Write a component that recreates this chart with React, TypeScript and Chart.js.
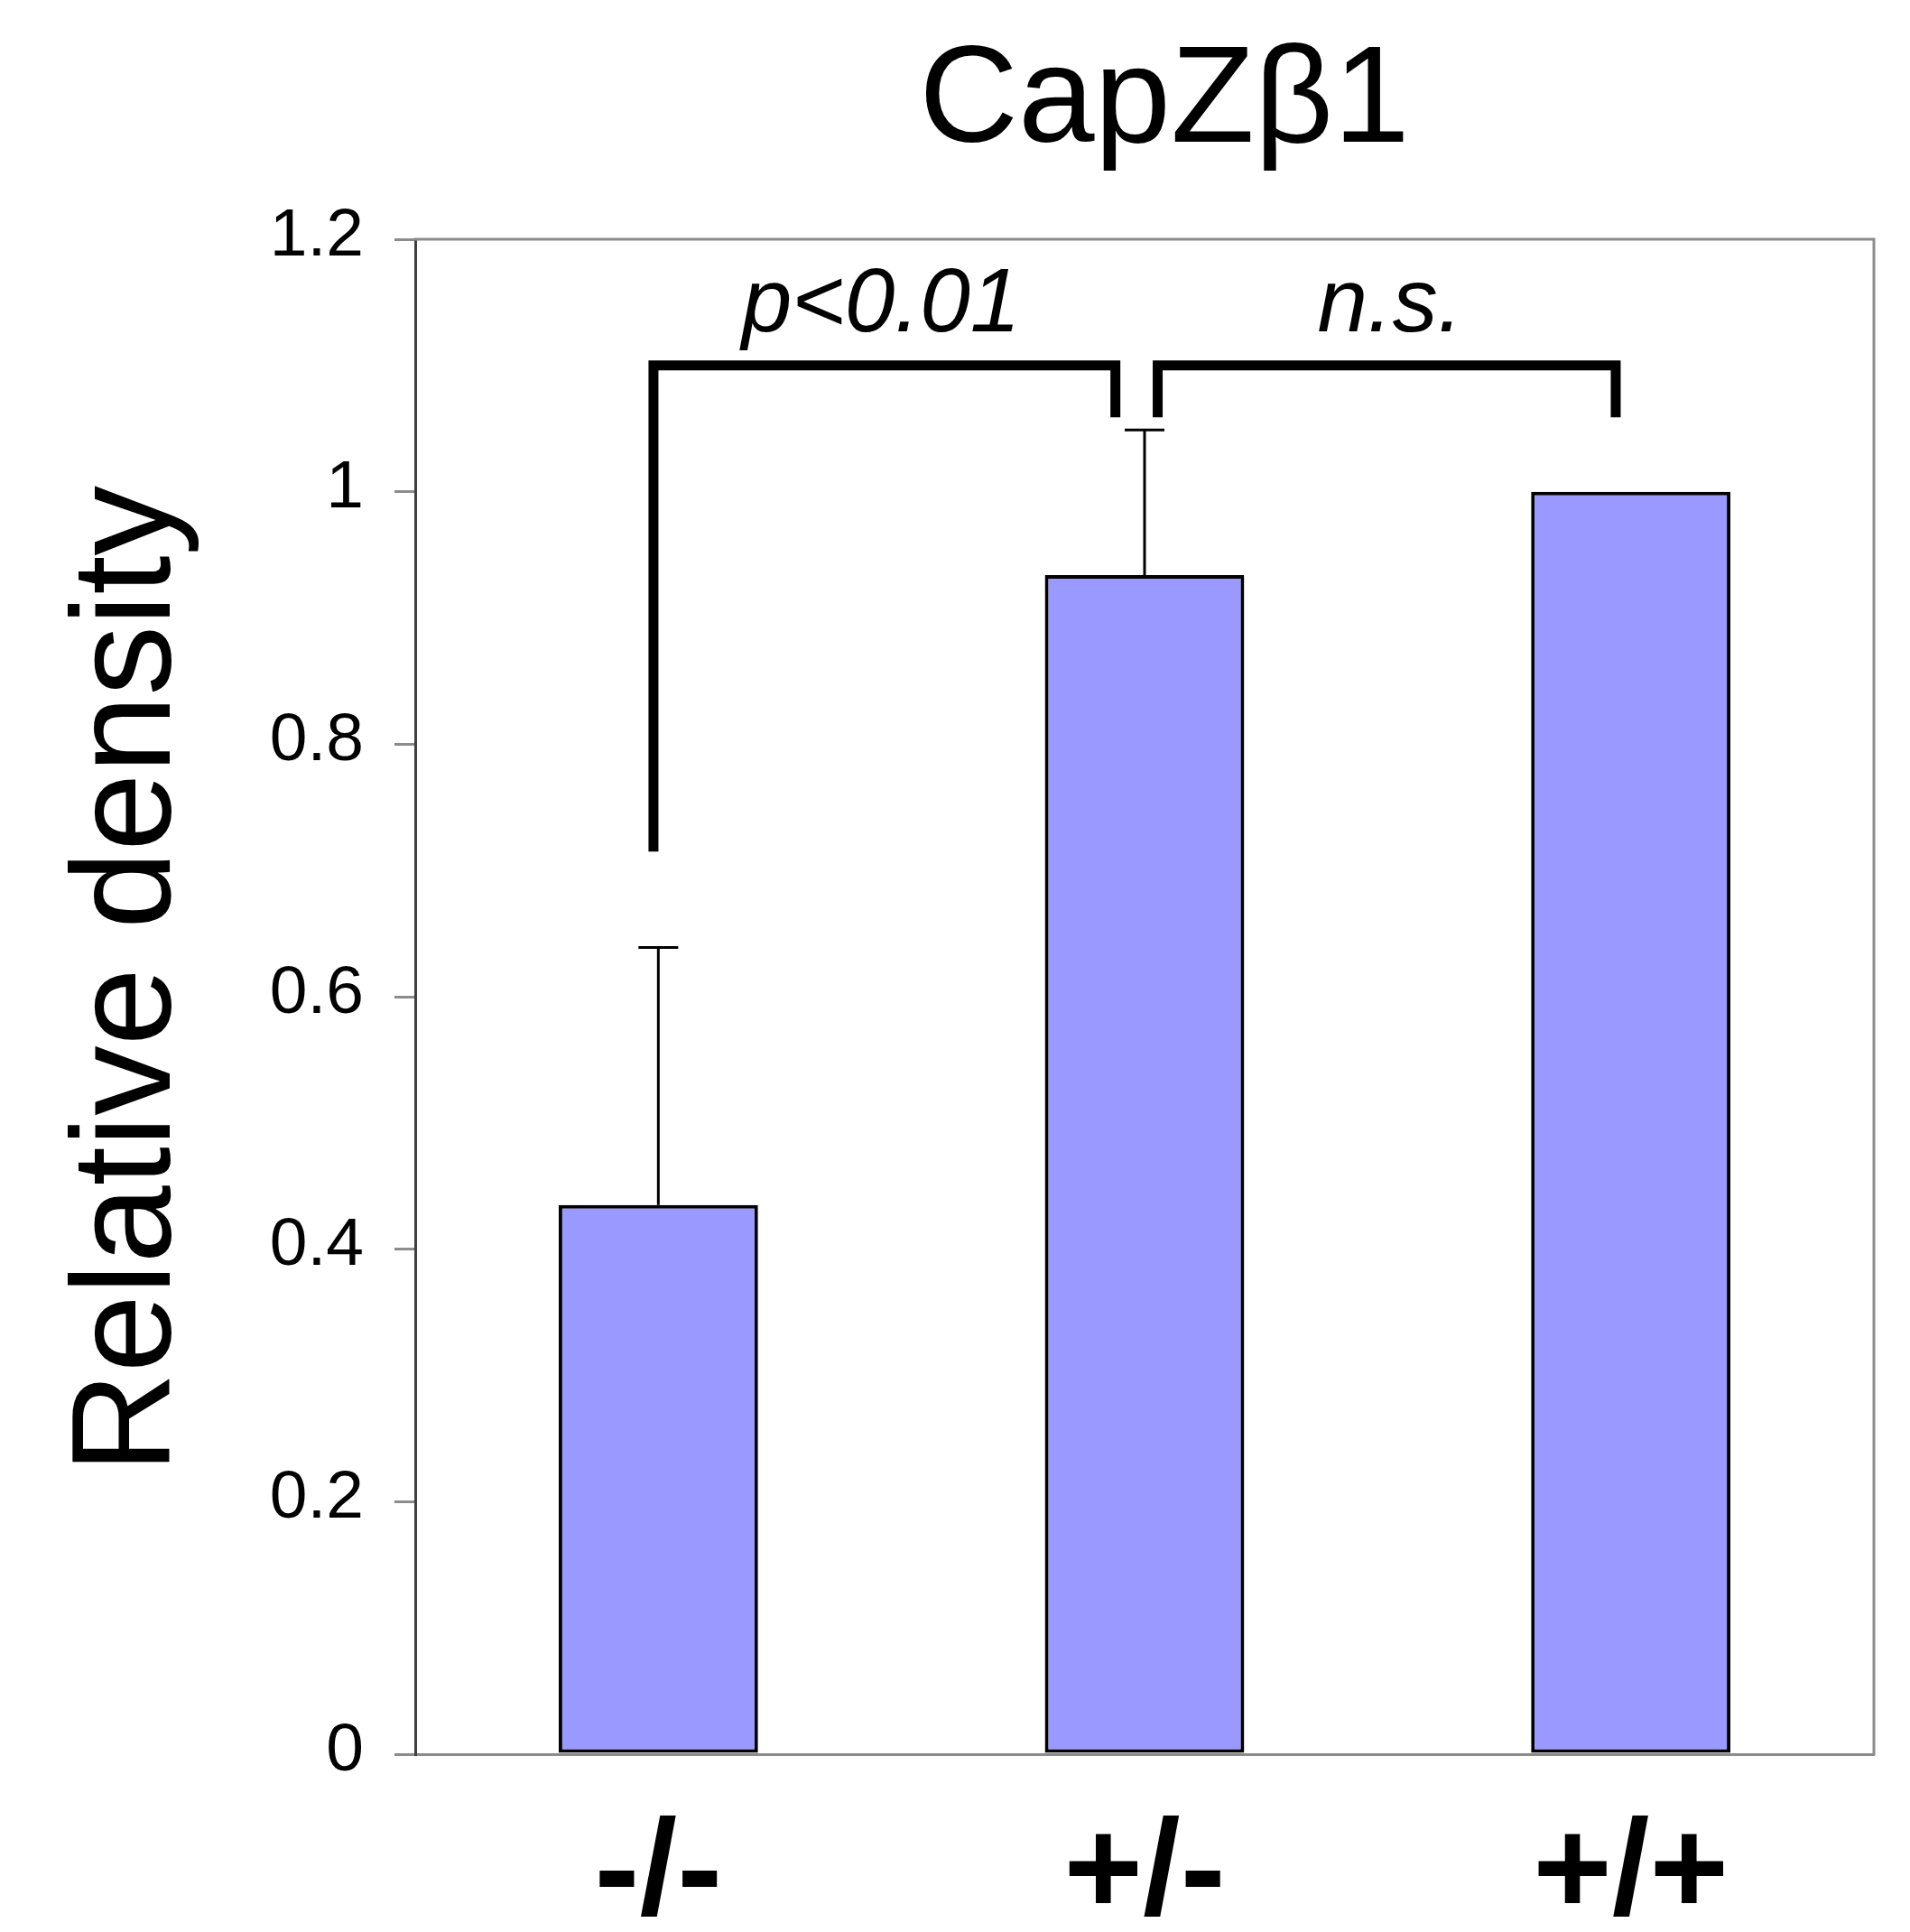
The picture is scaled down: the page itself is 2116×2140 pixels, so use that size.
import React, { useEffect, useRef } from 'react';
import { Chart, registerables } from 'chart.js';

Chart.register(...registerables);

// ---- data ----
const chartTitle = 'CapZβ1';
const yAxisTitle = 'Relative density';
const categories = ['-/-', '+/-', '+/+'];
const values = [0.435, 0.934, 1.0];
const errors = [0.204, 0.115, 0];
const yMin = 0;
const yMax = 1.2;
const yStep = 0.2;

// significance brackets (x in category index units, y in data units)
const bracketX1 = [-0.01, 1.027];
const bracketX2 = [0.94, 1.969];
const bracketTop = [1.1, 1.1];
const bracketLeftEnd = [0.715, 1.059];
const bracketRightEnd = [1.059, 1.059];
const sigLabels = ['p<0.01', 'n.s.'];
const sigLabelX = [0.458, 1.505];
const sigLabelY = [1.127, 1.127];

const FONT = '"Liberation Sans", Arial, Helvetica, sans-serif';

export default function App() {
  const ref = useRef<HTMLCanvasElement>(null);

  useEffect(() => {
    const canvas = ref.current;
    if (!canvas) return;

    const annot = {
      id: 'annot',
      afterDatasetsDraw(chart: any) {
        const ctx = chart.ctx as CanvasRenderingContext2D;
        const xs = chart.scales.x;
        const ys = chart.scales.y;
        const area = chart.chartArea;
        ctx.save();

        // top / right frame
        ctx.strokeStyle = '#8c8c8c';
        ctx.lineWidth = 3;
        ctx.lineCap = 'square';
        ctx.beginPath();
        ctx.moveTo(area.left, area.top);
        ctx.lineTo(area.right, area.top);
        ctx.lineTo(area.right, area.bottom);
        ctx.stroke();

        // error bars (upper only)
        ctx.strokeStyle = '#000';
        ctx.lineWidth = 3;
        ctx.lineCap = 'butt';
        const meta = chart.getDatasetMeta(0);
        values.forEach((v, i) => {
          const e = errors[i];
          if (!e) return;
          const x = meta.data[i].x;
          const y0 = ys.getPixelForValue(v);
          const y1 = ys.getPixelForValue(v + e);
          ctx.beginPath();
          ctx.moveTo(x, y0);
          ctx.lineTo(x, y1);
          ctx.moveTo(x - 22, y1);
          ctx.lineTo(x + 22, y1);
          ctx.stroke();
        });

        // significance brackets
        ctx.lineWidth = 11;
        ctx.lineJoin = 'miter';
        ctx.lineCap = 'butt';
        for (let i = 0; i < bracketX1.length; i++) {
          const xa = xs.getPixelForValue(bracketX1[i]);
          const xb = xs.getPixelForValue(bracketX2[i]);
          const yt = ys.getPixelForValue(bracketTop[i]);
          const ya = ys.getPixelForValue(bracketLeftEnd[i]);
          const yb = ys.getPixelForValue(bracketRightEnd[i]);
          ctx.beginPath();
          ctx.moveTo(xa, ya);
          ctx.lineTo(xa, yt);
          ctx.lineTo(xb, yt);
          ctx.lineTo(xb, yb);
          ctx.stroke();
        }

        // significance labels
        ctx.fillStyle = '#000';
        ctx.font = `italic 100px ${FONT}`;
        ctx.textAlign = 'center';
        ctx.textBaseline = 'alphabetic';
        for (let i = 0; i < sigLabels.length; i++) {
          ctx.fillText(sigLabels[i], xs.getPixelForValue(sigLabelX[i]), ys.getPixelForValue(sigLabelY[i]));
        }
        ctx.restore();
      },
      afterDraw(chart: any) {
        const ctx = chart.ctx as CanvasRenderingContext2D;
        ctx.save();
        ctx.fillStyle = '#000';
        // chart title
        ctx.font = `152px ${FONT}`;
        ctx.textAlign = 'center';
        ctx.textBaseline = 'alphabetic';
        ctx.fillText(chartTitle, 1290, 157);
        // y-axis title
        ctx.translate(188, 1085);
        ctx.rotate(-Math.PI / 2);
        ctx.font = `155px ${FONT}`;
        ctx.fillText(yAxisTitle, 0, 0);
        ctx.restore();
      },
    };

    const chart = new Chart(canvas, {
      type: 'bar',
      data: {
        labels: categories,
        datasets: [
          {
            data: values,
            backgroundColor: '#9999FF',
            borderColor: '#000000',
            borderWidth: 4,
            borderSkipped: false,
            barPercentage: 0.41,
            categoryPercentage: 1,
          },
        ],
      },
      options: {
        animation: false,
        responsive: false,
        maintainAspectRatio: false,
        devicePixelRatio: 1,
        layout: { padding: { top: 265, right: 40, bottom: 0, left: 0 } },
        plugins: {
          legend: { display: false },
          tooltip: { enabled: false },
          title: { display: false },
        },
        scales: {
          x: {
            offset: true,
            grid: { display: false, drawTicks: false },
            border: { display: true, color: '#8c8c8c', width: 3 },
            ticks: {
              color: '#000',
              padding: 46,
              maxRotation: 0,
              autoSkip: false,
              font: { family: FONT, size: 150, weight: 'bold', lineHeight: 1.2 },
            },
            afterFit(scale: any) {
              scale.height = 2140 - 1943;
            },
          },
          y: {
            min: yMin,
            max: yMax,
            grid: {
              display: true,
              drawOnChartArea: false,
              drawTicks: true,
              tickLength: 23,
              color: '#8c8c8c',
              lineWidth: 3,
            },
            border: { display: true, color: '#404040', width: 3 },
            ticks: {
              stepSize: yStep,
              color: '#000',
              padding: 34,
              labelOffset: -3,
              font: { family: FONT, size: 75 },
              callback: (v: any) => String(Math.round(Number(v) * 10) / 10),
            },
            afterFit(scale: any) {
              scale.width = 460;
            },
          },
        },
      },
      plugins: [annot],
    } as any);

    return () => chart.destroy();
  }, []);

  return (
    <div style={{ position: 'fixed', left: 0, top: 0, width: 2116, height: 2140, background: '#fff' }}>
      <canvas ref={ref} width={2116} height={2140} style={{ width: 2116, height: 2140, display: 'block' }} />
    </div>
  );
}
